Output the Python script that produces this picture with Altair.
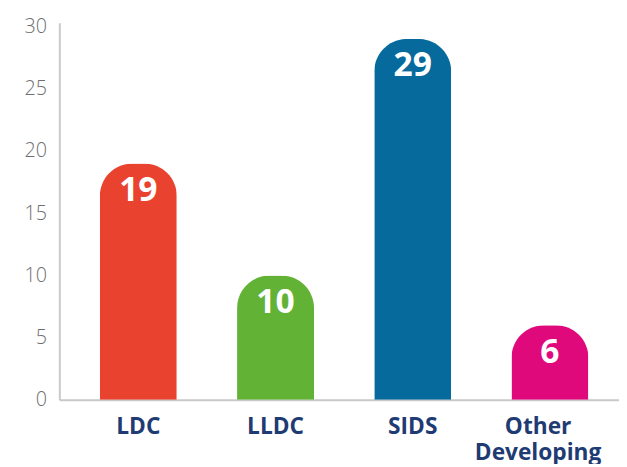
import altair as alt
import pandas as pd

categories = ["LDC", "LLDC", "SIDS", "Other Developing"]
display_labels = ["LDC", "LLDC", "SIDS", "Other\nDeveloping"]
values = [19, 10, 29, 6]
colors = ["#E94330", "#62B236", "#066A9C", "#DF097C"]
y_ticks = [0, 5, 10, 15, 20, 25, 30]
label_dx = [0, 0, 0, -12]

df = pd.DataFrame({
    "cat": categories,
    "label": display_labels,
    "value": values,
    "dx": label_dx,
})

W, H = 567, 382

x = alt.X("cat:N", sort=categories,
          scale=alt.Scale(paddingInner=0.439, paddingOuter=0.259, align=0.57),
          axis=alt.Axis(title=None, labels=False, ticks=False, domainColor="#C9C9C9",
                        domainWidth=2))

bars = alt.Chart(df).mark_bar(cornerRadiusTopLeft=33, cornerRadiusTopRight=33).encode(
    x=x,
    y=alt.Y("value:Q", scale=alt.Scale(domain=[0, 30.3], nice=False),
            axis=alt.Axis(title=None, values=y_ticks, grid=False, ticks=False,
                          domainColor="#C9C9C9", domainWidth=2,
                          labelFont="Open Sans", labelFontWeight=300,
                          labelFontSize=20, labelColor="#6D6E71", labelPadding=13)),
    color=alt.Color("cat:N", scale=alt.Scale(domain=categories, range=colors), legend=None),
)

vals = alt.Chart(df).mark_text(
    font="Open Sans", fontWeight="bold", fontSize=34, color="white",
    baseline="middle", dy=28
).encode(
    x=alt.X("cat:N", sort=categories),
    y="value:Q",
    text="value:Q",
)

cats_main = alt.Chart(df[df["dx"] == 0]).mark_text(
    font="Open Sans", fontWeight="bold", fontSize=23, color="#1F3B73",
    baseline="alphabetic", lineBreak="\n", lineHeight=26
).encode(
    x=alt.X("cat:N", sort=categories),
    y=alt.value(H + 35),
    text="label:N",
)

cats_last = alt.Chart(df[df["dx"] != 0]).mark_text(
    font="Open Sans", fontWeight="bold", fontSize=23, color="#1F3B73",
    baseline="alphabetic", lineBreak="\n", lineHeight=26, dx=-12
).encode(
    x=alt.X("cat:N", sort=categories),
    y=alt.value(H + 35),
    text="label:N",
)

chart = alt.layer(bars, vals, cats_main, cats_last).properties(
    width=W, height=H,
    autosize=alt.AutoSizeParams(type="none"),
    padding={"left": 52, "top": 12, "right": 0, "bottom": 62},
).configure_view(stroke=None)

chart.save("out.html", embed_options={"renderer": "svg", "actions": False})
